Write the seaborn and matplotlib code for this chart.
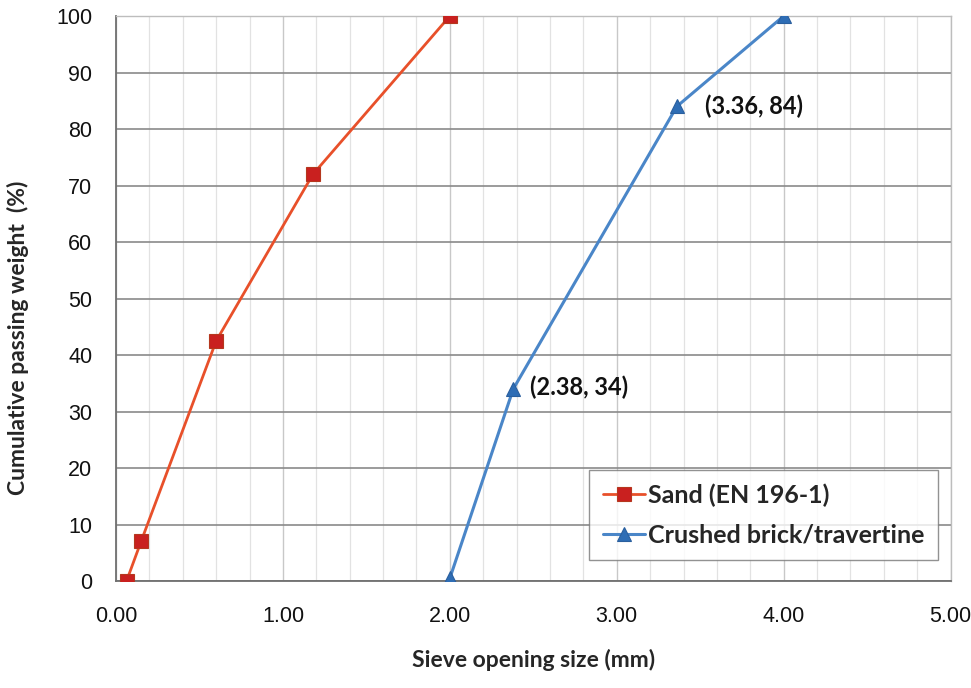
import matplotlib
matplotlib.use("Agg")
import matplotlib.pyplot as plt
from matplotlib.ticker import MultipleLocator, FormatStrFormatter
import seaborn as sns
import pandas as pd

sand_x = [0.063, 0.15, 0.6, 1.18, 2.0]
sand_y = [0, 7, 42.5, 72, 100]
brick_x = [2.0, 2.38, 3.36, 4.0]
brick_y = [0.5, 34, 84, 100]
sand_label = "Sand (EN 196-1)"
brick_label = "Crushed brick/travertine"
annotations = [(2.38, 34, "(2.38, 34)"), (3.36, 84, "(3.36, 84)")]
annot_offsets = [(12, 1), (20, 0)]

sns.set_theme(style="white")
plt.rcParams['font.family'] = ['Liberation Sans', 'DejaVu Sans']

fig = plt.figure(figsize=(9.71, 6.88), dpi=100)
ax = fig.add_axes([0.1195, 0.1555, 0.8595, 0.8212])

df_s = pd.DataFrame({"x": sand_x, "y": sand_y})
df_b = pd.DataFrame({"x": brick_x, "y": brick_y})
sns.lineplot(data=df_s, x="x", y="y", ax=ax, color="#E8502A", lw=2,
             marker="s", markersize=10, markerfacecolor="#C9201F",
             markeredgecolor="#B5371E", markeredgewidth=0.8, label=sand_label,
             sort=False, zorder=3)
sns.lineplot(data=df_b, x="x", y="y", ax=ax, color="#4A86C8", lw=2.2,
             marker="^", markersize=10, markerfacecolor="#2E6DB5",
             markeredgecolor="#2A5F9E", markeredgewidth=0.8, label=brick_label,
             sort=False, zorder=3)

ax.set_xlim(0, 5)
ax.set_ylim(0, 100)
ax.xaxis.set_major_locator(MultipleLocator(1))
ax.xaxis.set_minor_locator(MultipleLocator(0.2))
ax.yaxis.set_major_locator(MultipleLocator(10))
ax.xaxis.set_major_formatter(FormatStrFormatter("%.2f"))
ax.grid(which="major", axis="y", color="#8a8a8a", lw=1.2)
ax.grid(which="major", axis="x", color="#c8c8c8", lw=1.0)
ax.grid(which="minor", axis="x", color="#e2e2e2", lw=0.9)
ax.set_axisbelow(True)

for s in ["left", "bottom"]:
    ax.spines[s].set_color("#707070")
    ax.spines[s].set_linewidth(1.3)
for s in ["top", "right"]:
    ax.spines[s].set_color("#bdbdbd")
    ax.spines[s].set_linewidth(1.0)

ax.tick_params(axis="both", which="major", direction="out", length=8,
               width=1, color="#888888", labelsize=15.5, labelcolor="#111111")
ax.tick_params(axis="x", which="minor", length=0)
ax.tick_params(axis="x", pad=10)
ax.tick_params(axis="y", pad=9)

ax.set_xlabel("Sieve opening size (mm)", family=["Lato", "DejaVu Sans"],
              weight="bold", size=16.5)
ax.set_ylabel("Cumulative passing weight  (%)", family=["Lato", "DejaVu Sans"],
              weight="bold", size=16.5)
ax.xaxis.set_label_coords(0.5, -0.12)
ax.yaxis.set_label_coords(-0.104, 0.43)

for (x, y, t), off in zip(annotations, annot_offsets):
    ax.annotate(t, (x, y), xytext=off, textcoords="offset points",
                ha="left", va="center", family=["Lato", "DejaVu Sans"],
                weight="bold", fontsize=17, color="#111111")

leg = ax.legend(loc="lower right", bbox_to_anchor=(0.985, 0.037),
                prop=dict(family=["Lato", "DejaVu Sans"], weight="bold", size=18),
                frameon=True, fancybox=False, edgecolor="#777777",
                borderpad=0.55, labelspacing=0.65, handlelength=1.7,
                handletextpad=0.1, borderaxespad=0)
leg.get_frame().set_linewidth(1.0)

fig.savefig("out.png", dpi=100)
